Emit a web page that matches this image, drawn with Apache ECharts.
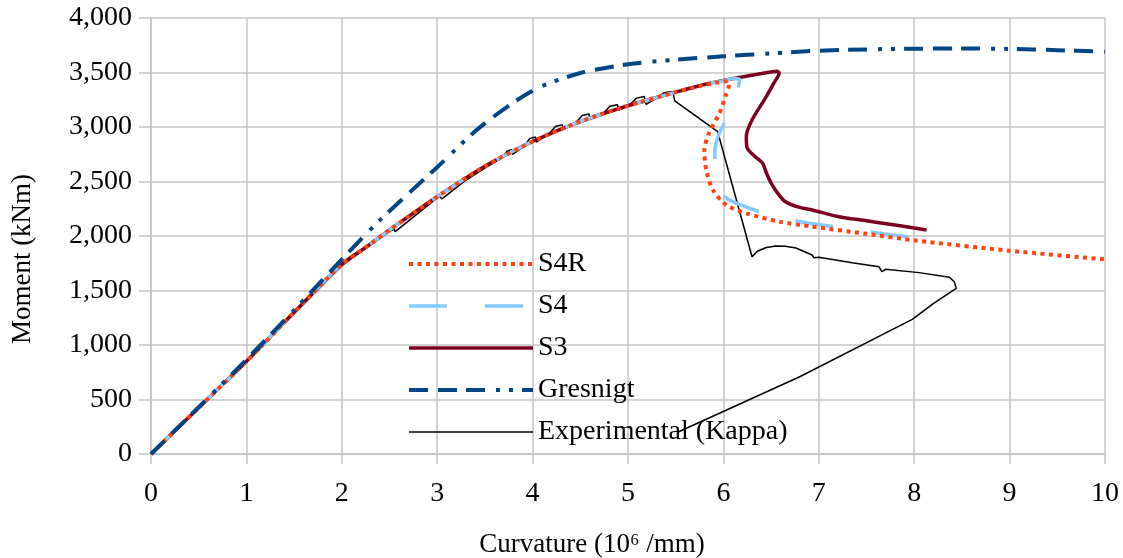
<!DOCTYPE html>
<html><head><meta charset="utf-8">
<script src="https://cdn.jsdelivr.net/npm/echarts@6/dist/echarts.min.js"></script>
<style>html,body{margin:0;padding:0;background:#fff}#c{width:1123px;height:558px}</style>
</head><body><div id="c"></div>
<script>
// Curvature (10^6 /mm) , Moment (kNm)
const seriesNames = ['S4R', 'S4', 'S3', 'Gresnigt', 'Experimental (Kappa)'];
const xTitle = 'Curvature (10\u2076 /mm)';
const yTitle = 'Moment (kNm)';

const s4r = [[0,0],[0.5,425],[1,850],[1.5,1300],[2,1740],[2.25,1895],[2.5,2055],[3,2360],[3.5,2640],[4,2867],[4.5,3050],[5,3195],[5.5,3320],[5.8,3385],[6.0,3418],[6.05,3420],[6.06,3390],[6.03,3303],[5.96,3128],[5.85,2945],[5.80,2789],[5.82,2606],[5.89,2422],[6.03,2284],[6.24,2208],[6.59,2131],[6.93,2086],[7.5,2020],[8.02,1958],[9,1865],[10,1785]];

const s4 = [[0,0],[0.5,425],[1,850],[1.5,1300],[2,1740],[2.25,1895],[2.5,2055],[3,2360],[3.5,2640],[4,2867],[4.5,3050],[5,3195],[5.5,3320],[5.8,3390],[6.0,3425],[6.12,3445],[6.17,3435],[6.16,3380],[6.13,3279],[6.05,3100],[5.96,2950],[5.91,2780],[5.92,2621],[5.97,2440],[6.03,2350],[6.12,2307],[6.48,2193],[6.88,2119],[7.27,2073],[7.69,2018],[8.07,1978]];

const s3 = [[0,0],[0.5,425],[1,850],[1.5,1300],[2,1740],[2.25,1895],[2.5,2055],[3,2360],[3.5,2640],[4,2867],[4.5,3050],[5,3195],[5.5,3320],[5.8,3390],[6.0,3428],[6.3,3475],[6.5,3505],[6.56,3512],[6.585,3495],[6.53,3404],[6.45,3279],[6.30,3064],[6.24,2911],[6.25,2807],[6.33,2730],[6.41,2670],[6.45,2580],[6.50,2486],[6.58,2380],[6.65,2315],[6.8,2262],[6.93,2239],[7.21,2177],[7.5,2140],[7.8,2100],[8.13,2055]];

const gresnigt = [[0,0],[0.5,430],[1,865],[1.5,1320],[2,1785],[2.4,2146],[3,2631],[3.45,2999],[4,3333],[4.5,3495],[5,3575],[5.5,3618],[6,3648],[6.5,3675],[7,3700],[7.5,3712],[8,3718],[8.5,3720],[9,3716],[9.5,3705],[10,3690]];

const experimental = [[0,0],[0.5,418],[1,840],[1.5,1290],[2,1728],[2.5,2042],[2.55,2062],[2.56,2040],[3,2350],[3.03,2360],[3.05,2340],[3.29,2505],[3.3,2488],[3.52,2635],[3.53,2622],[3.68,2718],[3.73,2775],[3.78,2795],[3.79,2748],[3.92,2832],[3.97,2895],[4.03,2908],[4.04,2862],[4.18,2947],[4.24,3005],[4.31,3022],[4.32,2978],[4.46,3047],[4.52,3105],[4.59,3120],[4.6,3078],[4.75,3132],[4.81,3190],[4.89,3205],[4.9,3152],[5.03,3212],[5.09,3265],[5.17,3280],[5.19,3207],[5.32,3277],[5.38,3315],[5.47,3325],[5.49,3240],[5.94,2957],[6.30,1810],[6.36,1862],[6.45,1895],[6.55,1908],[6.65,1905],[6.76,1890],[6.93,1826],[6.95,1800],[7.0,1804],[7.35,1755],[7.63,1718],[7.66,1673],[7.70,1694],[8.05,1664],[8.37,1621],[8.42,1580],[8.44,1520],[8.2,1380],[7.98,1235],[6.8,709],[5.52,200]];

const FONT = '"Liberation Serif", "DejaVu Serif", serif';
const GRID = '#c4c4c4';

const chart = echarts.init(document.getElementById('c'), null, {renderer: 'canvas'});
chart.setOption({
  animation: false,
  backgroundColor: '#fff',
  grid: {left: 151, right: 18, top: 18, bottom: 104, containLabel: false},
  xAxis: {
    type: 'value', min: 0, max: 10, interval: 1,
    axisLine: {show: true, onZero: false, lineStyle: {color: GRID, width: 1.5}},
    axisTick: {show: true, length: 10, lineStyle: {color: GRID, width: 1.5}},
    splitLine: {show: true, lineStyle: {color: GRID, width: 1.5}},
    axisLabel: {color: '#000', fontFamily: FONT, fontSize: 28, margin: 26}
  },
  yAxis: {
    type: 'value', min: 0, max: 4000, interval: 500,
    axisLine: {show: true, lineStyle: {color: GRID, width: 1.5}},
    axisTick: {show: true, length: 12, lineStyle: {color: GRID, width: 1.5}},
    splitLine: {show: true, lineStyle: {color: GRID, width: 1.5}},
    axisLabel: {color: '#000', fontFamily: FONT, fontSize: 28, margin: 19,
      formatter: v => v.toLocaleString('en-US')}
  },
  legend: {
    orient: 'vertical', left: 407, top: 250, padding: 0,
    itemWidth: 124, itemHeight: 14, itemGap: 14, selectedMode: false,
    data: seriesNames,
    itemStyle: {opacity: 0},
    lineStyle: {width: 'inherit'},
    textStyle: {color: '#000', fontFamily: FONT, fontSize: 28, lineHeight: 28}
  },
  graphic: [
    {type: 'text', x: 23, y: 259, rotation: Math.PI / 2,
     style: {text: yTitle, fill: '#000', fontFamily: FONT, fontSize: 27, align: 'center', verticalAlign: 'middle'}},
    {type: 'text', x: 592, y: 545,
     style: {text: xTitle, fill: '#000', fontFamily: FONT, fontSize: 27, align: 'center', verticalAlign: 'middle'}}
  ],
  series: [
    {name: seriesNames[4], type: 'line', data: experimental, symbol: 'none', z: 1,
     lineStyle: {color: '#000000', width: 1.5}, itemStyle: {color: '#000000'}},
    {name: seriesNames[2], type: 'line', data: s3, symbol: 'none', smooth: 0.25, z: 2,
     lineStyle: {color: '#7e0021', width: 3.5}, itemStyle: {color: '#7e0021'}},
    {name: seriesNames[1], type: 'line', data: s4, symbol: 'none', smooth: 0.25, z: 3,
     lineStyle: {color: '#83caff', width: 3.5, type: [38, 38]}, itemStyle: {color: '#83caff'}},
    {name: seriesNames[0], type: 'line', data: s4r, symbol: 'none', smooth: 0.25, z: 4,
     lineStyle: {color: '#ff420e', width: 4, type: [4, 4.5]}, itemStyle: {color: '#ff420e'}},
    {name: seriesNames[3], type: 'line', data: gresnigt, symbol: 'none', smooth: 0.3, z: 5,
     lineStyle: {color: '#004586', width: 4, type: [19, 10, 19, 9, 19, 11, 4, 9, 4, 9]}, itemStyle: {color: '#004586'}}
  ]
});
</script>
</body></html>
